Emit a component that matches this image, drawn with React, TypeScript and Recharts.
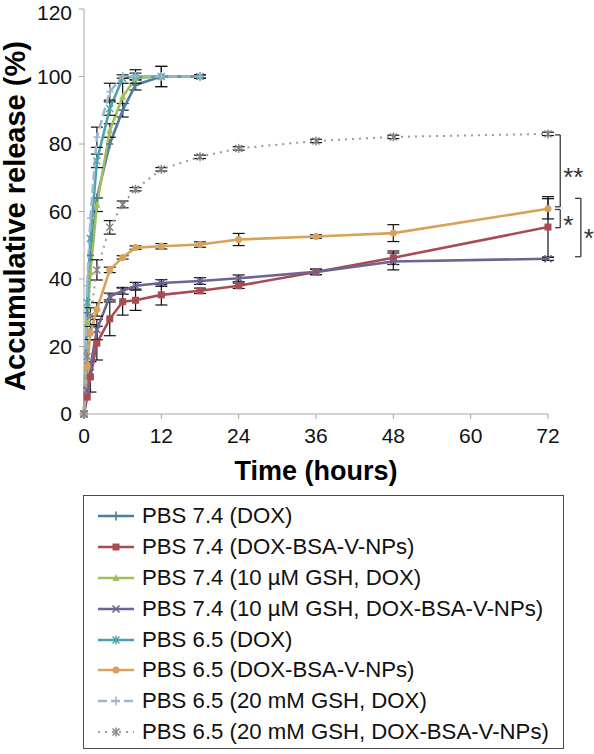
import React from 'react';
import { LineChart, Line, XAxis, YAxis, ErrorBar, ReferenceLine, Legend } from 'recharts';

// Time points (hours)
const timesFast = [0, 0.5, 1, 2, 4, 6, 8, 12, 18];
const timesSlow = [0, 0.5, 1, 2, 4, 6, 8, 12, 18, 24, 36, 48, 72];
const xTicks = [0, 12, 24, 36, 48, 60, 72];
const yTicks = [0, 20, 40, 60, 80, 100, 120];

// Accumulative release (%)
const pbs74Dox = [0, 30, 47, 64, 80, 90, 97.5, 100, 100];
const pbs74DoxErr = [0, 0, 0, 0, 0, 2, 1.5, 3, 0.5];
const pbs74Nps = [0, 5, 11, 21, 28.2, 33.3, 33.7, 35.3, 36.5, 38, 42.1, 46.3, 55.4];
const pbs74NpsErr = [0, 0, 4.5, 5, 5, 4, 3, 3, 0.8, 0.8, 0.8, 2, 9];
const pbs74GshDox = [0, 27, 42, 62, 84, 94, 99.5, 100, 100];
const pbs74GshDoxErr = [0, 0, 0, 2, 2, 4, 0, 0, 0];
const pbs74GshNps = [0, 7, 14, 25, 34.8, 36.5, 38, 38.8, 39.4, 40.2, 42.1, 45.2, 46];
const pbs74GshNpsErr = [0, 0, 0, 3, 1, 1, 1, 1, 1, 1, 0.8, 2.5, 0.5];
const pbs65Dox = [0, 33, 52, 75, 90.5, 99.5, 100, 100, 100];
const pbs65DoxErr = [0, 0, 0, 2, 2, 0, 1, 0, 0];
const pbs65Nps = [0, 14, 24, 31, 42.7, 46.4, 49.3, 49.7, 50.2, 51.7, 52.6, 53.6, 60.8];
const pbs65NpsErr = [0, 0, 2, 2, 0.8, 0.5, 0.5, 0.8, 0.8, 1.8, 0.5, 2.5, 3];
const pbs65GshDox = [0, 38, 58, 82, 95.5, 100, 100, 100, 100];
const pbs65GshDoxErr = [0, 0, 0, 3, 2.5, 0.5, 2, 3, 0.5];
const pbs65GshNps = [0, 17, 29, 42.7, 55.3, 62.1, 66.6, 72.5, 76.2, 78.7, 80.9, 82.1, 83];
const pbs65GshNpsErr = [0, 0, 2.5, 3, 2, 1, 0.5, 0.5, 0.5, 0.5, 0.5, 0.5, 0.5];

const seriesNames = [
  'PBS 7.4 (DOX)',
  'PBS 7.4 (DOX-BSA-V-NPs)',
  'PBS 7.4 (10 \u00b5M GSH, DOX)',
  'PBS 7.4 (10 \u00b5M GSH, DOX-BSA-V-NPs)',
  'PBS 6.5 (DOX)',
  'PBS 6.5 (DOX-BSA-V-NPs)',
  'PBS 6.5 (20 mM GSH, DOX)',
  'PBS 6.5 (20 mM GSH, DOX-BSA-V-NPs)',
];

const mk = (times: number[], vals: number[], errs: number[]) =>
  times.map((t, i) => ({ t, v: vals[i], err: errs[i] }));

type Shape = 'plus' | 'square' | 'triangle' | 'x' | 'asterisk' | 'circle' | 'dashplus' | 'star';

const series = [
  { name: seriesNames[0], data: mk(timesFast, pbs74Dox, pbs74DoxErr), color: '#4f7c9c', shape: 'plus' as Shape, dash: undefined as string | undefined, width: 2.6 },
  { name: seriesNames[1], data: mk(timesSlow, pbs74Nps, pbs74NpsErr), color: '#a84c52', shape: 'square' as Shape, dash: undefined, width: 2.6 },
  { name: seriesNames[2], data: mk(timesFast, pbs74GshDox, pbs74GshDoxErr), color: '#9fbf5e', shape: 'triangle' as Shape, dash: undefined, width: 2.6 },
  { name: seriesNames[3], data: mk(timesSlow, pbs74GshNps, pbs74GshNpsErr), color: '#6e6392', shape: 'x' as Shape, dash: undefined, width: 2.6 },
  { name: seriesNames[4], data: mk(timesFast, pbs65Dox, pbs65DoxErr), color: '#4aa3ad', shape: 'asterisk' as Shape, dash: undefined, width: 2.6 },
  { name: seriesNames[5], data: mk(timesSlow, pbs65Nps, pbs65NpsErr), color: '#d9a25a', shape: 'circle' as Shape, dash: undefined, width: 2.6 },
  { name: seriesNames[6], data: mk(timesFast, pbs65GshDox, pbs65GshDoxErr), color: '#9bb8cf', shape: 'dashplus' as Shape, dash: '9 4', width: 2.6 },
  { name: seriesNames[7], data: mk(timesSlow, pbs65GshNps, pbs65GshNpsErr), color: '#9a9a9a', shape: 'star' as Shape, dash: '2 5', width: 2 },
];

function Marker({ cx, cy, shape, color }: { cx: number; cy: number; shape: Shape; color: string }) {
  const s = 3.5;
  switch (shape) {
    case 'square':
      return <rect x={cx - s} y={cy - s} width={2 * s} height={2 * s} fill={color} />;
    case 'triangle':
      return <polygon points={`${cx},${cy - s - 0.5} ${cx - s},${cy + s - 0.5} ${cx + s},${cy + s - 0.5}`} fill={color} />;
    case 'circle':
      return <circle cx={cx} cy={cy} r={s} fill={color} />;
    case 'x':
      return (
        <g stroke={color} strokeWidth={1.6}>
          <line x1={cx - s} y1={cy - s} x2={cx + s} y2={cy + s} />
          <line x1={cx - s} y1={cy + s} x2={cx + s} y2={cy - s} />
        </g>
      );
    case 'asterisk':
    case 'star':
      return (
        <g stroke={shape === 'star' ? '#8a7f86' : color} strokeWidth={1.4}>
          <line x1={cx - s} y1={cy - s} x2={cx + s} y2={cy + s} />
          <line x1={cx - s} y1={cy + s} x2={cx + s} y2={cy - s} />
          <line x1={cx} y1={cy - s - 1} x2={cx} y2={cy + s + 1} />
        </g>
      );
    case 'plus':
    case 'dashplus':
    default:
      return (
        <g stroke={color} strokeWidth={1.6}>
          <line x1={cx - s} y1={cy} x2={cx + s} y2={cy} />
          <line x1={cx} y1={cy - s - 1} x2={cx} y2={cy + s + 1} />
        </g>
      );
  }
}

const makeDot = (shape: Shape, color: string) => (props: any) => {
  const { cx, cy, index } = props;
  if (cx == null || cy == null || isNaN(cx) || isNaN(cy)) return <g key={`n-${index}`} />;
  return (
    <g key={`d-${index}`}>
      <Marker cx={cx} cy={cy} shape={shape} color={color} />
    </g>
  );
};

const FONT = '"Liberation Sans", Arial, sans-serif';

function LegendBox() {
  return (
    <div
      style={{
        boxSizing: 'border-box',
        width: 481,
        height: 254,
        border: '1.5px solid #4a4a4a',
        padding: '5px 0 0 14px',
        fontFamily: FONT,
        fontSize: 22.2,
        color: '#111',
        background: '#fff',
      }}
    >
      {series.map((s) => (
        <div key={s.name} style={{ height: 30.8, display: 'flex', alignItems: 'center', whiteSpace: 'nowrap' }}>
          <svg width={36} height={12} style={{ marginRight: 8, flex: 'none' }}>
            <line x1={0} y1={6} x2={36} y2={6} stroke={s.color} strokeWidth={s.width} strokeDasharray={s.dash} />
            <Marker cx={18} cy={6} shape={s.shape} color={s.color} />
          </svg>
          <span>{s.name}</span>
        </div>
      ))}
    </div>
  );
}

const YLabel = () => (
  <text
    x={25}
    y={216}
    transform="rotate(-90, 25, 216)"
    textAnchor="middle"
    fontFamily={FONT}
    fontWeight="bold"
    fontSize={29}
    fill="#000"
  >
    Accumulative release (%)
  </text>
);

const XLabel = () => (
  <text x={316} y={480} textAnchor="middle" fontFamily={FONT} fontWeight="bold" fontSize={27} fill="#000">
    Time (hours)
  </text>
);

const bracketStroke = '#3a3a3a';
const brackets = [
  { x: 73.9, tick: 73.1, y1: 82.7, y2: 61.4, text: '**', dy: 6 },
  { x: 73.9, tick: 73.1, y1: 60.6, y2: 55.2, text: '*', dy: 6 },
  { x: 77.1, tick: 76.2, y1: 63.9, y2: 46.6, text: '*', dy: 10 },
];

export default function App() {
  return (
    <div style={{ position: 'absolute', left: 0, top: 0, width: 594, height: 754, background: '#fff' }}>
      <LineChart width={594} height={754} margin={{ top: 9, right: 46, left: 0, bottom: 310 }}>
        <XAxis
          dataKey="t"
          type="number"
          domain={[0, 72]}
          ticks={xTicks}
          height={30}
          tickSize={5}
          tickMargin={9}
          stroke="#a8a8a8"
          tick={{ fill: '#111', fontSize: 21, fontFamily: FONT }}
          label={{ content: () => <XLabel /> }}
        />
        <YAxis
          type="number"
          domain={[0, 120]}
          ticks={yTicks}
          width={84}
          tickSize={5}
          tickMargin={7}
          stroke="#a8a8a8"
          tick={{ fill: '#111', fontSize: 21, fontFamily: FONT }}
          label={{ content: () => <YLabel /> }}
        />
        {series.map((s) => (
          <Line
            key={s.name}
            data={s.data}
            dataKey="v"
            name={s.name}
            type="linear"
            stroke={s.color}
            strokeWidth={s.width}
            strokeDasharray={s.dash}
            dot={makeDot(s.shape, s.color)}
            activeDot={false}
            isAnimationActive={false}
          >
            <ErrorBar dataKey="err" direction="y" width={6} stroke="#111" strokeWidth={1.2} isAnimationActive={false} />
          </Line>
        ))}
        {brackets.map((b, i) => (
          <ReferenceLine
            key={`bv-${i}`}
            segment={[{ x: b.x, y: b.y1 }, { x: b.x, y: b.y2 }]}
            stroke={bracketStroke}
            strokeWidth={1.3}
            ifOverflow="visible"
            label={{ value: b.text, position: 'right', offset: 3, fontSize: 26, fill: '#333', fontFamily: FONT, dy: b.dy }}
          />
        ))}
        {brackets.map((b, i) => (
          <ReferenceLine
            key={`bt-${i}`}
            segment={[{ x: b.tick, y: b.y1 }, { x: b.x, y: b.y1 }]}
            stroke={bracketStroke}
            strokeWidth={1.3}
            ifOverflow="visible"
          />
        ))}
        {brackets.map((b, i) => (
          <ReferenceLine
            key={`bb-${i}`}
            segment={[{ x: b.tick, y: b.y2 }, { x: b.x, y: b.y2 }]}
            stroke={bracketStroke}
            strokeWidth={1.3}
            ifOverflow="visible"
          />
        ))}
        <Legend
          layout="vertical"
          align="center"
          verticalAlign="middle"
          wrapperStyle={{ top: 495, left: 83, width: 481, height: 254 }}
          content={() => <LegendBox />}
        />
      </LineChart>
    </div>
  );
}
